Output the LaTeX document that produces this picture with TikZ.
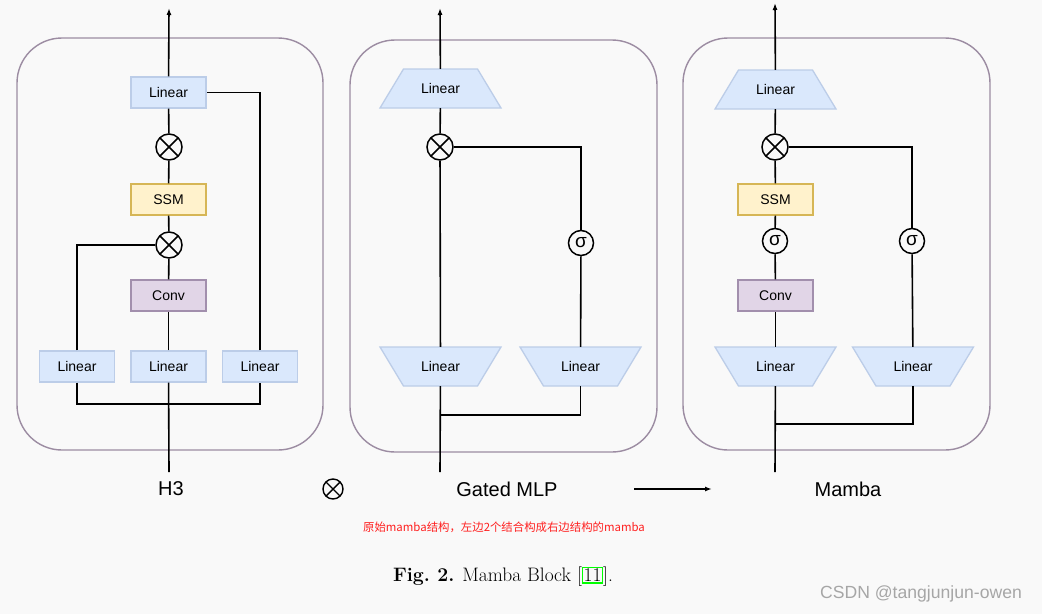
\documentclass[tikz,border=0pt]{standalone}
\usepackage{fontspec}
\newfontfamily\arial{Liberation Sans}
\newfontfamily\cjk{Noto Sans CJK SC}
\usetikzlibrary{shapes.geometric,arrows.meta}
\definecolor{bgc}{HTML}{F9F9F9}
\definecolor{linfill}{HTML}{DAE8FC}
\definecolor{linedge}{HTML}{BCCDE8}
\definecolor{ssmfill}{HTML}{FFF2CC}
\definecolor{ssmedge}{HTML}{D6B656}
\definecolor{convfill}{HTML}{E1D5E7}
\definecolor{convedge}{HTML}{A28FAD}
\definecolor{panedge}{HTML}{9C8CA2}
\definecolor{redtxt}{HTML}{FF2020}
\definecolor{lnkgreen}{HTML}{00FF00}
\definecolor{wmark}{HTML}{A6A6A6}
% trapezoid outlines: wide side at bottom (up) or at top (down)
\newcommand\trapUpShape[2]{\filldraw[trapshape] (#1-60.5,#2+19.5) -- (#1-37,#2-19.5) -- (#1+37,#2-19.5) -- (#1+60.5,#2+19.5) -- cycle;}
\newcommand\trapDownShape[2]{\filldraw[trapshape] (#1-60.5,#2-19.5) -- (#1-37,#2+19.5) -- (#1+37,#2+19.5) -- (#1+60.5,#2-19.5) -- cycle;}
\begin{document}
\begin{tikzpicture}[x=1pt,y=-1pt,
 panel/.style={draw=panedge, line width=1.4pt, rounded corners=45pt},
 boxbase/.style={rectangle, line width=1.3pt, minimum width=75pt, minimum height=31pt, inner sep=0pt, font=\arial\fontsize{14}{16}\selectfont},
 linbox/.style={boxbase, fill=linfill, draw=linedge},
 ssmbox/.style={boxbase, fill=ssmfill, draw=ssmedge},
 convbox/.style={boxbase, fill=convfill, draw=convedge},
 trapshape/.style={fill=linfill, draw=linedge, line width=1.3pt, line join=miter},
 trapnode/.style={rectangle, minimum width=121pt, minimum height=39pt, inner sep=0pt, font=\arial\fontsize{14}{16}\selectfont},
 mult/.style={circle, draw, line width=1.5pt, fill=bgc, minimum size=26pt, inner sep=0pt,
   path picture={\draw[line width=1.5pt] (path picture bounding box.center) +(-9.2pt,-9.2pt) -- +(9.2pt,9.2pt)
     (path picture bounding box.center) +(-9.2pt,9.2pt) -- +(9.2pt,-9.2pt);}},
 sigm/.style={circle, draw, line width=1.5pt, fill=bgc, minimum size=25pt, inner sep=0pt, font=\arial\fontsize{19}{20}\selectfont},
 conn/.style={line width=1.6pt, draw=black},
 arr/.style={conn, -{Latex[length=7pt,width=5pt]}},
 lbl/.style={font=\arial\fontsize{20}{24}\selectfont}
]
\fill[bgc] (0,0) rectangle (1042,614);
\useasboundingbox (0,0) rectangle (1042,614);

% ---------------- H3 ----------------
\draw[panel] (17,38) rectangle (323,450);
\node[linbox] (h3top) at (168.5,92.5) {Linear};
\node[mult] (h3x1) at (169,147) {};
\node[ssmbox] (h3ssm) at (168.5,199.5) {SSM};
\node[mult] (h3x2) at (169,245) {};
\node[convbox] (h3conv) at (168.5,295.5) {Conv};
\node[linbox] (h3l) at (77,366.5) {Linear};
\node[linbox] (h3m) at (168.5,366.5) {Linear};
\node[linbox] (h3r) at (260,366.5) {Linear};
\coordinate (h3in) at (169,472);
\coordinate (h3out) at (169,8);
\coordinate (h3bar) at (169,404);
\draw[conn] (h3in) -- (h3m);
\draw[conn] (h3m) -- (h3conv);
\draw[conn] (h3conv) -- (h3x2);
\draw[conn] (h3x2) -- (h3ssm);
\draw[conn] (h3ssm) -- (h3x1);
\draw[conn] (h3x1) -- (h3top);
\draw[arr] (h3top) -- (h3out);
\draw[conn] (h3l) |- (h3bar) -| (h3r);
\draw[conn] (h3l) |- (h3x2);
\draw[conn] (h3r) |- (h3top);
\node[lbl] (h3lbl) at (171,489) {H3};

% ---------------- Gated MLP ----------------
\draw[panel] (350,40) rectangle (657,452);
\trapUpShape{440.5}{88.5}
\node[trapnode] (gtop) at (440.5,88.5) {Linear};
\node[mult] (gx) at (440,147) {};
\node[sigm] (gsig) at (581,243) {σ};
\trapDownShape{440.5}{366.5}
\node[trapnode] (gl) at (440.5,366.5) {Linear};
\trapDownShape{580.5}{366.5}
\node[trapnode] (gr) at (580.5,366.5) {Linear};
\coordinate (gin) at (440,472);
\coordinate (gout) at (440,8);
\coordinate (gbar) at (440,415);
\draw[conn] (gin) -- (gl);
\draw[conn] (gl) -- (gx);
\draw[conn] (gx) -- (gtop);
\draw[arr] (gtop) -- (gout);
\draw[conn] (gx) -| (gsig);
\draw[conn] (gsig) -- (gr);
\draw[conn] (gbar) -| (gr);
\node[lbl] (glbl) at (507,489) {Gated MLP};

% ---------------- Mamba ----------------
\draw[panel] (683,38) rectangle (990,450);
\trapUpShape{775.5}{89.5}
\node[trapnode] (mtop) at (775.5,89.5) {Linear};
\node[mult] (mx) at (775,147) {};
\node[ssmbox] (mssm) at (775.5,199.5) {SSM};
\node[sigm] (msig1) at (775,241) {σ};
\node[convbox] (mconv) at (775.5,295.5) {Conv};
\trapDownShape{775.5}{366.5}
\node[trapnode] (ml) at (775.5,366.5) {Linear};
\node[sigm] (msig2) at (912,241) {σ};
\trapDownShape{913}{366.5}
\node[trapnode] (mr) at (913,366.5) {Linear};
\coordinate (min) at (775,472);
\coordinate (mout) at (775,3);
\coordinate (mbar) at (775,424);
\draw[conn] (min) -- (ml);
\draw[conn] (ml) -- (mconv);
\draw[conn] (mconv) -- (msig1);
\draw[conn] (msig1) -- (mssm);
\draw[conn] (mssm) -- (mx);
\draw[conn] (mx) -- (mtop);
\draw[arr] (mtop) -- (mout);
\draw[conn] (mx) -| (msig2);
\draw[conn] (msig2) -- (mr);
\draw[conn] (mbar) -| (mr);
\node[lbl] (mlbl) at (848,489) {Mamba};

% ---------------- between-panel symbols ----------------
\node[circle, draw, line width=1.4pt, minimum size=20pt, inner sep=0pt,
  path picture={\draw[line width=1.4pt] (path picture bounding box.center) +(-7pt,-7pt) -- +(7pt,7pt)
     (path picture bounding box.center) +(-7pt,7pt) -- +(7pt,-7pt);}] (plus) at (333,489) {};
\coordinate (a1) at (634,489);
\coordinate (a2) at (712,489);
\draw[arr] (a1) -- (a2);

% ---------------- texts ----------------
\node[font=\cjk\fontsize{11.4}{13}\selectfont, text=redtxt] (note) at (504,527) {原始mamba结构，左边2个结合构成右边结构的mamba};
\node[font=\fontsize{19.5}{22}\selectfont] (cap) at (503,577) {\textbf{Fig.\ 2.} Mamba Block [{\color{lnkgreen}\fboxsep=0.5pt\fboxrule=1.2pt\fbox{\color{black}11}}].};
\node[font=\arial\fontsize{17.6}{20}\selectfont, text=wmark] (wm) at (921,594) {CSDN @tangjunjun-owen};
\end{tikzpicture}
\end{document}
